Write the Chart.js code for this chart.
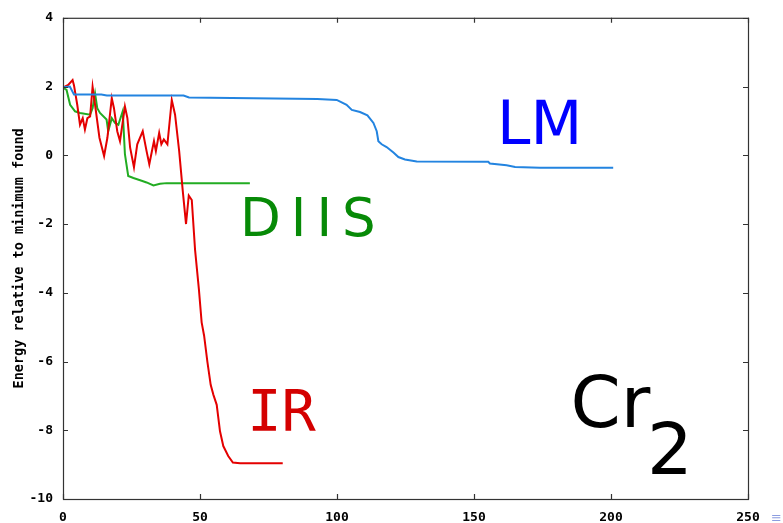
<!DOCTYPE html>
<html>
<head>
<meta charset="utf-8">
<script src="https://cdn.jsdelivr.net/npm/chart.js@4.4.0/dist/chart.umd.min.js"></script>
<style>
  html, body { margin: 0; padding: 0; background: #fff; }
  #wrap { width: 783px; height: 523px; }
</style>
</head>
<body>
<div id="wrap"><canvas id="chart" width="783" height="523"></canvas></div>
<script>
// iteration vs. energy relative to the minimum found
const lmX = [0, 2.5, 4, 14, 16, 44, 46, 92.8, 99.9, 101.7, 103.5, 105.4, 108.4, 111.1, 113.3, 114.5, 115.1, 116.3, 118.1, 120.6, 122.4, 124.8, 129.1, 155.2, 155.8, 161.9, 165, 174.1, 200.8];
const lmY = [1.98, 2.0, 1.77, 1.77, 1.74, 1.74, 1.68, 1.64, 1.61, 1.54, 1.47, 1.32, 1.26, 1.16, 0.94, 0.70, 0.41, 0.32, 0.24, 0.08, -0.05, -0.12, -0.18, -0.19, -0.24, -0.29, -0.34, -0.36, -0.36];

const irX = [0, 1.9, 3.5, 4.0, 5.2, 6.2, 7.2, 8.0, 8.9, 9.9, 10.8, 11.7, 13.3, 15.0, 16.2, 17.8, 18.6, 19.8, 20.8, 22.6, 23.5, 24.5, 25.9, 27.1, 29.1, 30.5, 31.5, 32.7, 33.2, 33.9, 35.1, 35.9, 36.8, 38.1, 39.7, 40.9, 42.4, 43.7, 44.9, 45.9, 47.0, 48.2, 49.6, 50.6, 51.5, 52.7, 53.9, 54.9, 56.1, 57.3, 58.5, 60.3, 62.0, 64.6, 80.2];
const irY = [1.97, 2.05, 2.19, 2.04, 1.47, 0.89, 1.08, 0.75, 1.08, 1.13, 1.99, 1.47, 0.51, -0.02, 0.51, 1.66, 1.37, 0.70, 0.41, 1.42, 1.08, 0.22, -0.35, 0.32, 0.70, 0.12, -0.26, 0.22, 0.41, 0.12, 0.65, 0.32, 0.46, 0.32, 1.61, 1.18, 0.12, -1.03, -2.0, -1.17, -1.3, -2.75, -3.90, -4.86, -5.25, -6.01, -6.68, -6.97, -7.26, -8.03, -8.46, -8.75, -8.94, -8.96, -8.96];

const diisX = [0, 1.3, 2.6, 4.4, 6.2, 9.9, 10.8, 11.7, 12.5, 13.5, 15.9, 16.5, 17.8, 19.0, 20.2, 21.8, 22.6, 23.8, 25.7, 28.7, 30.5, 33.0, 35.4, 37.8, 68.2];
const diisY = [1.97, 1.9, 1.47, 1.28, 1.23, 1.18, 1.37, 1.80, 1.37, 1.23, 1.04, 0.70, 1.08, 0.94, 0.89, 1.28, 0.03, -0.60, -0.66, -0.74, -0.79, -0.88, -0.83, -0.81, -0.81];

const xRange = [0, 250];
const yRange = [-10, 4];

const toPoints = (xs, ys) => xs.map((x, i) => ({ x: x, y: ys[i] }));

// big text labels, anchored in data units (left edge, baseline)
const notes = [
  { text: "LM", x: 158.4, y: 0.32, font: "60px 'DejaVu Sans'", color: "#0000ff", spacing: "0px" },
  { text: "DIIS", x: 64.6, y: -2.36, font: "53px 'DejaVu Sans'", color: "#078a07", spacing: "10px" },
  { text: "IR", x: 67.2, y: -8.03, font: "57px 'DejaVu Sans Mono'", color: "#d40000", spacing: "0px" },
  { text: "Cr", x: 185.2, y: -7.91, font: "72px 'DejaVu Sans'", color: "#000", spacing: "0px" },
  { text: "2", x: 213.1, y: -9.27, font: "72px 'DejaVu Sans'", color: "#000", spacing: "0px" },
];

// gnuplot-like box with inward ticks on every side
const frame = {
  id: "frame",
  afterDatasetsDraw(chart) {
    const { ctx, chartArea: a, scales } = chart;
    const tl = 5;
    ctx.save();
    ctx.strokeStyle = "#333";
    ctx.lineWidth = 1.2;
    ctx.strokeRect(a.left + 0.5, a.top + 0.5, a.right - a.left, a.bottom - a.top);
    ctx.beginPath();
    scales.x.ticks.forEach(t => {
      const px = Math.round(scales.x.getPixelForValue(t.value)) + 0.5;
      ctx.moveTo(px, a.bottom); ctx.lineTo(px, a.bottom - tl);
      ctx.moveTo(px, a.top); ctx.lineTo(px, a.top + tl);
    });
    scales.y.ticks.forEach(t => {
      const py = Math.round(scales.y.getPixelForValue(t.value)) + 0.5;
      ctx.moveTo(a.left, py); ctx.lineTo(a.left + tl, py);
      ctx.moveTo(a.right, py); ctx.lineTo(a.right - tl, py);
    });
    ctx.stroke();
    ctx.restore();
  }
};

const annotate = {
  id: "annotate",
  afterDraw(chart) {
    const { ctx, scales } = chart;
    ctx.save();
    ctx.textBaseline = "alphabetic";
    ctx.textAlign = "left";
    notes.forEach(n => {
      ctx.font = n.font;
      ctx.fillStyle = n.color;
      ctx.letterSpacing = n.spacing;
      ctx.fillText(n.text, scales.x.getPixelForValue(n.x), scales.y.getPixelForValue(n.y));
    });
    ctx.letterSpacing = "0px";
    // little menu glyph in the corner of the original screenshot
    ctx.font = "13px 'DejaVu Sans'";
    ctx.fillStyle = "#8c9de0";
    ctx.fillText("\u2261", 771, 522);
    ctx.restore();
  }
};

const tickFont = { family: "'DejaVu Sans Mono'", size: 13, weight: "bold" };

new Chart(document.getElementById("chart"), {
  type: "line",
  data: {
    datasets: [
      { label: "LM", data: toPoints(lmX, lmY), borderColor: "#2384e0" },
      { label: "IR", data: toPoints(irX, irY), borderColor: "#e40000" },
      { label: "DIIS", data: toPoints(diisX, diisY), borderColor: "#22ac22" },
    ]
  },
  options: {
    responsive: false,
    devicePixelRatio: 1,
    animation: false,
    layout: { padding: { top: 12, right: 35, left: 0, bottom: 0 } },
    elements: {
      line: { borderWidth: 2, tension: 0, fill: false },
      point: { radius: 0 }
    },
    plugins: { legend: { display: false }, tooltip: { enabled: false } },
    scales: {
      x: {
        type: "linear",
        min: xRange[0], max: xRange[1],
        grid: { display: false, drawTicks: false },
        border: { display: false },
        ticks: { stepSize: 50, font: tickFont, color: "#000", padding: 11, maxRotation: 0, autoSkip: false },
        afterFit(s) { s.height = 24; }
      },
      y: {
        min: yRange[0], max: yRange[1],
        grid: { display: false, drawTicks: false },
        border: { display: false },
        ticks: { stepSize: 2, font: tickFont, color: "#000", padding: 10, autoSkip: false },
        title: {
          display: true,
          text: "Energy relative to minimum found",
          font: { family: "'DejaVu Sans Mono'", size: 13.5, weight: "bold" },
          color: "#000",
          padding: { top: 11, bottom: 0 }
        },
        afterFit(s) { s.width = 63; }
      }
    }
  },
  plugins: [frame, annotate]
});
</script>
</body>
</html>
